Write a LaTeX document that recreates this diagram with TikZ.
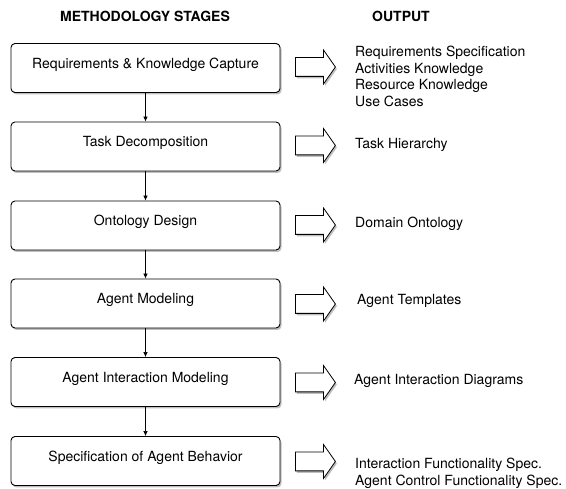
\documentclass[tikz,border=0pt]{standalone}
\usepackage{fontspec}
\setmainfont{TeX Gyre Heros}
\usepackage{tikz}
\usetikzlibrary{arrows.meta}
\usetikzlibrary{shapes.arrows}
\usetikzlibrary{shadows}
\tikzset{stage/.style = {draw, line width = 0.9pt, rounded corners = 4pt, fill = white,
                         minimum width = 269pt, minimum height = 49pt,
                         text height = 10pt, text depth = 9pt, inner sep = 0pt,
                         font = \fontsize{14}{16.7}\selectfont,
                         drop shadow = {shadow xshift = 1.5pt, shadow yshift = -2pt, opacity = 0.5}}}
\tikzset{outarrow/.style = {single arrow, draw, fill = white, line width = 0.8pt,
                            minimum height = 40pt, text height = 9pt, text depth = 9pt,
                            single arrow head extend = 7.5pt, single arrow tip angle = 110,
                            inner sep = 0pt, anchor = tail,
                            drop shadow = {shadow xshift = 1.5pt, shadow yshift = -2pt, opacity = 0.5}}}
\tikzset{output/.style = {anchor = north west, inner sep = 0pt, align = left,
                          font = \fontsize{14}{16.7}\selectfont}}
\tikzset{heading/.style = {inner sep = 0pt, font = \fontsize{14}{16.7}\selectfont\bfseries}}
\tikzset{flow/.style = {line width = 0.7pt, -{Latex[length = 5pt, width = 4.5pt]}}}

\begin{document}
\begin{tikzpicture}[x = 1pt, y = -1pt]
      \useasboundingbox (0, 0) rectangle (566, 489);

      \node [heading] (stageshead) at (145, 16) {METHODOLOGY STAGES};
      \node [heading] (outputhead) at (401, 16) {OUTPUT};

      \node [stage] (req) at (145.5, 68) {Requirements \& Knowledge Capture};
      \node [stage] (task) at (145.5, 146.5) {Task Decomposition};
      \node [stage] (onto) at (145.5, 225.5) {Ontology Design};
      \node [stage] (agent) at (145.5, 303.5) {Agent Modeling};
      \node [stage] (inter) at (145.5, 382) {Agent Interaction Modeling};
      \node [stage] (behav) at (145.5, 461) {Specification of Agent Behavior};

      \draw [flow] (req.south) -- (task.north);
      \draw [flow] (task.south) -- (onto.north);
      \draw [flow] (onto.south) -- (agent.north);
      \draw [flow] (agent.south) -- (inter.north);
      \draw [flow] (inter.south) -- (behav.north);

      \node [outarrow] (reqarrow) at (295, 67) {};
      \node [outarrow] (taskarrow) at (295, 145.5) {};
      \node [outarrow] (ontoarrow) at (295, 225) {};
      \node [outarrow] (agentarrow) at (295, 304) {};
      \node [outarrow] (interarrow) at (295, 382.5) {};
      \node [outarrow] (behavarrow) at (295, 461.5) {};

      \node [output] (reqout) at (355, 45.7) {Requirements Specification\\Activities Knowledge\\Resource Knowledge\\Use Cases};
      \node [output] (taskout) at (355, 138) {Task Hierarchy};
      \node [output] (ontoout) at (355, 216.7) {Domain Ontology};
      \node [output] (agentout) at (357, 294) {Agent Templates};
      \node [output] (interout) at (354, 374) {Agent Interaction Diagrams};
      \node [output] (behavout) at (355, 458) {Interaction Functionality Spec.\\Agent Control Functionality Spec.};
    \end{tikzpicture}
\end{document}
